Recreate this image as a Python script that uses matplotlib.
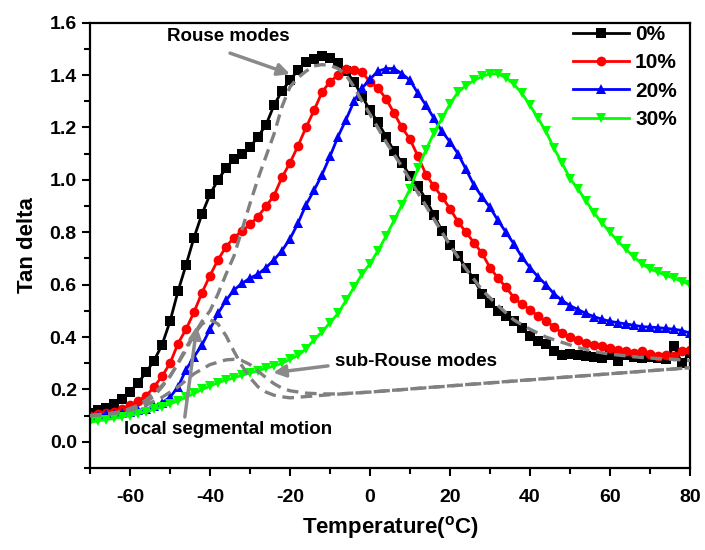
import numpy as np
import matplotlib
matplotlib.use("Agg")
import matplotlib.pyplot as plt

plt.rcParams['font.family'] = ['Liberation Sans', 'DejaVu Sans']
plt.rcParams['font.weight'] = 'bold'
plt.rcParams['axes.unicode_minus'] = False
plt.rcParams['mathtext.fontset'] = 'custom'
plt.rcParams['mathtext.rm'] = 'Liberation Sans:bold'

# temperature grid of the measured curves (deg C)
temps = list(range(-70, 81, 2))

tan_0 = [0.11, 0.12, 0.13, 0.145, 0.165, 0.19, 0.225, 0.265, 0.31, 0.37,
         0.46, 0.575, 0.675, 0.78, 0.87, 0.945, 1.0, 1.045, 1.08, 1.10,
         1.125, 1.165, 1.21, 1.285, 1.34, 1.38, 1.42, 1.45, 1.463, 1.473,
         1.465, 1.445, 1.415, 1.375, 1.32, 1.265, 1.22, 1.165, 1.11, 1.065,
         1.015, 0.975, 0.925, 0.865, 0.805, 0.75, 0.71, 0.665, 0.62, 0.565,
         0.53, 0.50, 0.48, 0.46, 0.435, 0.405, 0.385, 0.372, 0.345, 0.33,
         0.335, 0.33, 0.328, 0.325, 0.32, 0.33, 0.31, 0.33, 0.325, 0.32,
         0.325, 0.32, 0.315, 0.365, 0.30, 0.34]

tan_10 = [0.10, 0.105, 0.11, 0.115, 0.125, 0.14, 0.155, 0.175, 0.21, 0.25,
          0.30, 0.375, 0.43, 0.495, 0.57, 0.635, 0.695, 0.745, 0.78, 0.805,
          0.83, 0.86, 0.90, 0.94, 1.01, 1.065, 1.13, 1.20, 1.265, 1.335,
          1.375, 1.40, 1.425, 1.42, 1.41, 1.375, 1.35, 1.31, 1.255, 1.20,
          1.155, 1.09, 1.02, 0.975, 0.935, 0.89, 0.84, 0.80, 0.76, 0.72,
          0.665, 0.625, 0.59, 0.55, 0.525, 0.505, 0.48, 0.46, 0.44, 0.415,
          0.40, 0.39, 0.378, 0.37, 0.366, 0.36, 0.352, 0.345, 0.34, 0.345,
          0.335, 0.328, 0.33, 0.328, 0.345, 0.35]

tan_20 = [0.10, 0.10, 0.105, 0.105, 0.11, 0.115, 0.12, 0.125, 0.135, 0.15,
          0.17, 0.21, 0.275, 0.325, 0.37, 0.43, 0.49, 0.54, 0.58, 0.605,
          0.625, 0.64, 0.665, 0.695, 0.73, 0.775, 0.835, 0.905, 0.96, 1.02,
          1.09, 1.165, 1.23, 1.30, 1.35, 1.385, 1.415, 1.425, 1.425, 1.405,
          1.38, 1.33, 1.285, 1.235, 1.185, 1.145, 1.10, 1.04, 0.98, 0.935,
          0.895, 0.845, 0.80, 0.755, 0.705, 0.665, 0.63, 0.60, 0.565, 0.54,
          0.52, 0.505, 0.49, 0.478, 0.468, 0.46, 0.455, 0.45, 0.445, 0.44,
          0.438, 0.436, 0.433, 0.43, 0.425, 0.415]

tan_30 = [0.075, 0.08, 0.085, 0.09, 0.095, 0.10, 0.108, 0.115, 0.124, 0.134,
          0.145, 0.157, 0.17, 0.185, 0.20, 0.213, 0.226, 0.236, 0.245, 0.254,
          0.263, 0.272, 0.281, 0.29, 0.30, 0.315, 0.33, 0.355, 0.39, 0.42,
          0.455, 0.49, 0.54, 0.59, 0.64, 0.68, 0.73, 0.785, 0.845, 0.905,
          0.965, 1.045, 1.115, 1.18, 1.235, 1.29, 1.335, 1.36, 1.38, 1.395,
          1.405, 1.405, 1.39, 1.365, 1.33, 1.285, 1.235, 1.185, 1.12, 1.065,
          1.005, 0.965, 0.92, 0.875, 0.835, 0.80, 0.765, 0.735, 0.705, 0.68,
          0.66, 0.648, 0.635, 0.625, 0.612, 0.60]

# fitted components (dashed grey)
rouse_t = [-70, -66, -62, -58, -56, -54, -52, -50, -48, -46, -44, -42, -40, -38,
           -36, -34, -32, -30, -28, -26, -24, -22, -20, -18, -16, -14, -12, -10,
           -8, -6, -4, -2, 0, 4, 8, 12, 16, 20, 24, 28, 32, 36, 40, 44, 48, 52,
           56, 60, 64, 68, 72, 76, 80]
rouse_v = [0.10, 0.105, 0.115, 0.14, 0.16, 0.185, 0.215, 0.25, 0.30, 0.35, 0.41,
           0.46, 0.50, 0.565, 0.64, 0.71, 0.81, 0.91, 1.005, 1.09, 1.175, 1.28,
           1.355, 1.39, 1.415, 1.435, 1.44, 1.437, 1.425, 1.40, 1.355, 1.30, 1.25,
           1.145, 1.05, 0.95, 0.85, 0.75, 0.66, 0.58, 0.52, 0.465, 0.43, 0.40,
           0.38, 0.36, 0.345, 0.335, 0.328, 0.322, 0.318, 0.315, 0.31]

local_t = [-70, -66, -62, -58, -56, -54, -52, -50, -48, -46, -44, -42, -40, -38,
           -36, -34, -32, -30, -28, -26, -24, -22, -20, -10, 0, 20, 40, 60, 80]
local_v = [0.10, 0.105, 0.115, 0.135, 0.15, 0.175, 0.21, 0.25, 0.30, 0.36, 0.41,
           0.45, 0.467, 0.45, 0.405, 0.345, 0.29, 0.245, 0.21, 0.19, 0.178, 0.172,
           0.168, 0.18, 0.19, 0.214, 0.237, 0.26, 0.283]

subrouse_t = [-70, -64, -60, -56, -52, -48, -44, -40, -36, -34, -32, -30, -28, -26,
              -24, -22, -20, -16, -12, -8, 0, 80]
subrouse_v = [0.10, 0.11, 0.12, 0.14, 0.17, 0.21, 0.26, 0.295, 0.313, 0.315, 0.31,
              0.295, 0.27, 0.245, 0.222, 0.205, 0.195, 0.186, 0.183, 0.183, 0.19, 0.283]

labels = ['0%', '10%', '20%', '30%']
colors = ['black', '#ff0000', '#0000ff', '#00ff00']
markers = ['s', 'o', '^', 'v']

fig = plt.figure(figsize=(7.05, 5.5), dpi=100)
ax = fig.add_axes([0.1277, 0.149, 0.851, 0.8097])

for y, lab, c, m in zip([tan_0, tan_10, tan_20, tan_30], labels, colors, markers):
    ax.plot(temps, y, color=c, marker=m, markersize=7, lw=2, label=lab,
            markeredgewidth=0)

dash_kw = dict(color='#808080', lw=2.4, ls=(0, (3.5, 2.0)), zorder=3)
ax.plot(rouse_t, rouse_v, **dash_kw)
ax.plot(local_t, local_v, **dash_kw)
ax.plot(subrouse_t, subrouse_v, **dash_kw)

arrow_kw = dict(arrowstyle='-|>', color='#8a8a8a', lw=2.5, mutation_scale=18,
                shrinkA=0, shrinkB=0)
ax.annotate('', xy=(-20, 1.404), xytext=(-35, 1.484), arrowprops=arrow_kw)
ax.annotate('', xy=(-24.2, 0.264), xytext=(-10.5, 0.29), arrowprops=arrow_kw)
ax.annotate('', xy=(-43.3, 0.442), xytext=(-46.3, 0.095), arrowprops=arrow_kw)

ax.text(-35.5, 1.546, 'Rouse modes', fontsize=13.5, ha='center', va='center')
ax.text(11.5, 0.307, 'sub-Rouse modes', fontsize=13.5, ha='center', va='center')
ax.text(-35.5, 0.048, 'local segmental motion', fontsize=13.5, ha='center', va='center')

ax.set_xlim(-70, 80)
ax.set_ylim(-0.1, 1.6)
ax.set_xticks(range(-60, 81, 20))
ax.set_xticks(range(-70, 81, 10), minor=True)
ax.set_yticks(np.arange(0, 1.61, 0.2))
ax.set_yticks(np.arange(-0.1, 1.61, 0.1), minor=True)
ax.set_yticklabels(['%.1f' % v for v in np.arange(0, 1.61, 0.2)])
ax.tick_params(which='both', direction='out', width=1.5, labelsize=14,
               top=False, right=False)
ax.tick_params(axis='x', pad=9)
ax.tick_params(which='major', length=6)
ax.tick_params(which='minor', length=4)
for lab in ax.get_xticklabels() + ax.get_yticklabels():
    lab.set_fontweight('bold')
for s in ax.spines.values():
    s.set_linewidth(1.6)

ax.set_xlabel('Temperature($^{\\mathrm{o}}$C)', fontsize=16, fontweight='bold',
              labelpad=6)
ax.set_ylabel('Tan delta', fontsize=16, fontweight='bold', labelpad=8)

ax.legend(loc='upper left', bbox_to_anchor=(0.78, 1.028), frameon=False,
          fontsize=15, numpoints=1, handlelength=2.7, handletextpad=0.3,
          labelspacing=0.45, borderpad=0.2)

fig.savefig('out.png', dpi=100)
